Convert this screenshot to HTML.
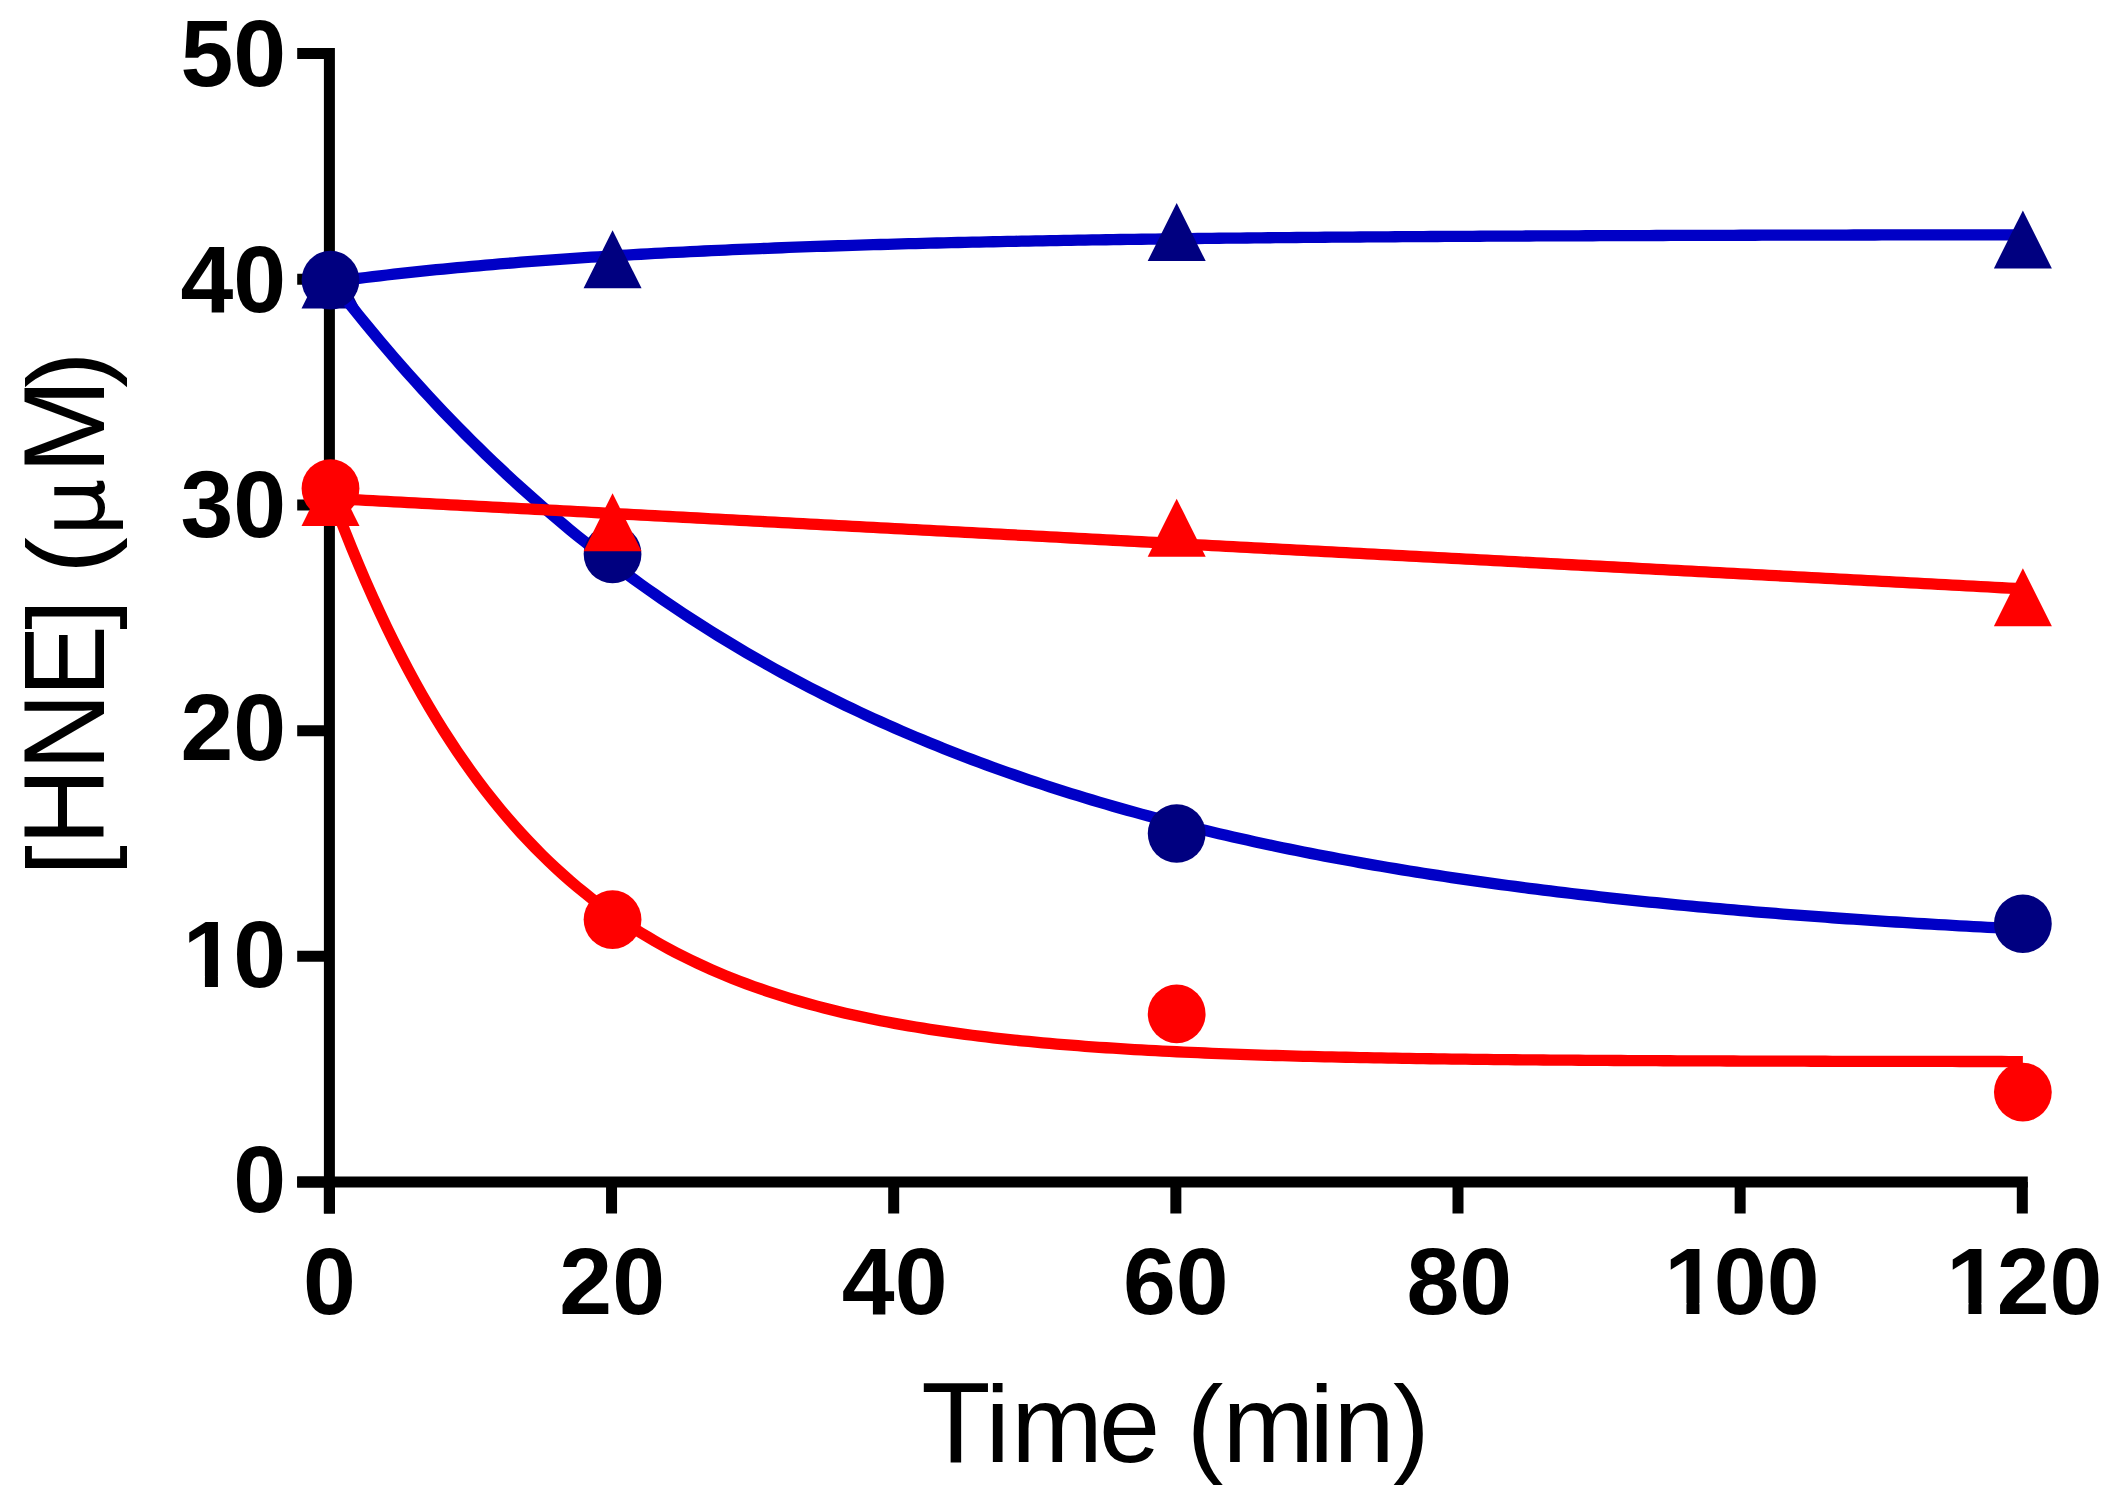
<!DOCTYPE html>
<html><head><meta charset="utf-8"><title>HNE time course</title>
<style>
html,body{margin:0;padding:0;background:#fff;}
svg{display:block;}
.tk{font-family:"Liberation Sans",sans-serif;font-weight:bold;font-size:95px;fill:#000;}
.ax{font-family:"Liberation Sans",sans-serif;font-weight:normal;font-size:110px;fill:#000;}
.mu{font-family:"DejaVu Sans",sans-serif;font-size:91px;}
</style></head><body>
<svg width="2125" height="1500" viewBox="0 0 2125 1500">
<rect width="2125" height="1500" fill="#fff"/>
<g stroke="#000" stroke-width="11" fill="none" stroke-linecap="butt">
<line x1="329.4" y1="48.1" x2="329.4" y2="1213.5"/>
<line x1="297.2" y1="1182.0" x2="2027.8" y2="1182.0"/>
<line x1="297.2" y1="1182.00" x2="329.4" y2="1182.00"/>
<line x1="297.2" y1="956.32" x2="329.4" y2="956.32"/>
<line x1="297.2" y1="730.64" x2="329.4" y2="730.64"/>
<line x1="297.2" y1="504.96" x2="329.4" y2="504.96"/>
<line x1="297.2" y1="279.28" x2="329.4" y2="279.28"/>
<line x1="297.2" y1="53.60" x2="329.4" y2="53.60"/>
<line x1="329.40" y1="1182.0" x2="329.40" y2="1213.5"/>
<line x1="611.55" y1="1182.0" x2="611.55" y2="1213.5"/>
<line x1="893.70" y1="1182.0" x2="893.70" y2="1213.5"/>
<line x1="1175.85" y1="1182.0" x2="1175.85" y2="1213.5"/>
<line x1="1458.00" y1="1182.0" x2="1458.00" y2="1213.5"/>
<line x1="1740.15" y1="1182.0" x2="1740.15" y2="1213.5"/>
<line x1="2022.30" y1="1182.0" x2="2022.30" y2="1213.5"/>
</g>
<text class="tk" x="233.37" y="1212.30">0</text>
<text class="tk" x="182.83 233.37" y="986.82">10</text>
<text class="tk" x="180.53 233.37" y="760.34">20</text>
<text class="tk" x="180.53 233.37" y="536.76">30</text>
<text class="tk" x="180.53 233.37" y="311.68">40</text>
<text class="tk" x="180.53 233.37" y="85.70">50</text>
<text class="tk" x="302.98" y="1314.40">0</text>
<text class="tk" x="559.32 612.15" y="1314.40">20</text>
<text class="tk" x="841.87 894.70" y="1314.40">40</text>
<text class="tk" x="1123.02 1175.85" y="1314.40">60</text>
<text class="tk" x="1406.47 1459.30" y="1314.40">80</text>
<text class="tk" x="1664.20 1713.83 1766.67" y="1314.40">100</text>
<text class="tk" x="1946.20 1996.73 2049.57" y="1314.40">120</text>
<rect x="1669.00" y="1303.20" width="17.44" height="12.50" fill="#fff"/>
<rect x="1699.45" y="1303.20" width="16.50" height="12.50" fill="#fff"/>
<rect x="1951.00" y="1303.20" width="17.44" height="12.50" fill="#fff"/>
<rect x="1981.45" y="1303.20" width="16.50" height="12.50" fill="#fff"/>
<rect x="187.50" y="976.20" width="17.42" height="12.50" fill="#fff"/>
<rect x="217.94" y="976.20" width="16.50" height="12.50" fill="#fff"/>
<text class="ax" y="1463 1462" x="921.25 985.46 1011.28 1098.91 1142.83 1186.75 1222.38 1309.41 1333.43 1392.89"><tspan font-size="114.95px" textLength="69.36" lengthAdjust="spacingAndGlyphs">T</tspan>ime (min)</text>
<text class="ax" transform="translate(103.6,0) rotate(-90)" y="0" x="-875.80 -845.32 -770.30 -696.78 -629.81 -601.78 -573.75 -536.57 -474.02 -388.09">[<tspan font-size="114.95px" textLength="77.02" lengthAdjust="spacingAndGlyphs">H</tspan><tspan font-size="114.95px" textLength="77.18" lengthAdjust="spacingAndGlyphs">N</tspan><tspan font-size="114.95px" textLength="71.61" lengthAdjust="spacingAndGlyphs">E</tspan>] (<tspan class="mu">μ</tspan><tspan font-size="114.95px" textLength="95.27" lengthAdjust="spacingAndGlyphs">M</tspan>)</text>
<g id="blue-tri"><path d="M330.50,281.99 L337.55,281.05 L344.60,280.13 L351.65,279.24 L358.71,278.35 L365.76,277.49 L372.81,276.64 L379.86,275.81 L386.91,275.00 L393.96,274.20 L401.01,273.41 L408.07,272.65 L415.12,271.90 L422.17,271.16 L429.22,270.43 L436.27,269.73 L443.32,269.03 L450.38,268.35 L457.43,267.68 L464.48,267.03 L471.53,266.39 L478.58,265.76 L485.63,265.14 L492.68,264.53 L499.74,263.94 L506.79,263.36 L513.84,262.79 L520.89,262.23 L527.94,261.68 L534.99,261.15 L542.04,260.62 L549.10,260.11 L556.15,259.60 L563.20,259.10 L570.25,258.62 L577.30,258.14 L584.35,257.67 L591.41,257.22 L598.46,256.77 L605.51,256.33 L612.56,255.89 L619.61,255.47 L626.66,255.06 L633.71,254.65 L640.77,254.25 L647.82,253.86 L654.87,253.48 L661.92,253.10 L668.97,252.73 L676.02,252.37 L683.08,252.02 L690.13,251.67 L697.18,251.33 L704.23,251.00 L711.28,250.67 L718.33,250.35 L725.38,250.04 L732.44,249.73 L739.49,249.43 L746.54,249.13 L753.59,248.84 L760.64,248.56 L767.69,248.28 L774.74,248.01 L781.80,247.74 L788.85,247.47 L795.90,247.22 L802.95,246.96 L810.00,246.72 L817.05,246.47 L824.11,246.24 L831.16,246.00 L838.21,245.77 L845.26,245.55 L852.31,245.33 L859.36,245.12 L866.41,244.90 L873.47,244.70 L880.52,244.49 L887.57,244.29 L894.62,244.10 L901.67,243.91 L908.72,243.72 L915.77,243.54 L922.83,243.36 L929.88,243.18 L936.93,243.01 L943.98,242.84 L951.03,242.67 L958.08,242.51 L965.13,242.35 L972.19,242.19 L979.24,242.04 L986.29,241.89 L993.34,241.74 L1000.39,241.59 L1007.44,241.45 L1014.50,241.31 L1021.55,241.18 L1028.60,241.04 L1035.65,240.91 L1042.70,240.78 L1049.75,240.66 L1056.80,240.53 L1063.86,240.41 L1070.91,240.29 L1077.96,240.18 L1085.01,240.06 L1092.06,239.95 L1099.11,239.84 L1106.16,239.73 L1113.22,239.63 L1120.27,239.52 L1127.32,239.42 L1134.37,239.32 L1141.42,239.23 L1148.47,239.13 L1155.53,239.04 L1162.58,238.95 L1169.63,238.86 L1176.68,238.77 L1183.73,238.68 L1190.78,238.60 L1197.83,238.51 L1204.89,238.43 L1211.94,238.35 L1218.99,238.27 L1226.04,238.20 L1233.09,238.12 L1240.14,238.05 L1247.19,237.98 L1254.25,237.91 L1261.30,237.84 L1268.35,237.77 L1275.40,237.70 L1282.45,237.64 L1289.50,237.57 L1296.56,237.51 L1303.61,237.45 L1310.66,237.39 L1317.71,237.33 L1324.76,237.27 L1331.81,237.21 L1338.86,237.16 L1345.92,237.10 L1352.97,237.05 L1360.02,236.99 L1367.07,236.94 L1374.12,236.89 L1381.17,236.84 L1388.22,236.79 L1395.28,236.75 L1402.33,236.70 L1409.38,236.65 L1416.43,236.61 L1423.48,236.57 L1430.53,236.52 L1437.59,236.48 L1444.64,236.44 L1451.69,236.40 L1458.74,236.36 L1465.79,236.32 L1472.84,236.28 L1479.89,236.24 L1486.95,236.21 L1494.00,236.17 L1501.05,236.13 L1508.10,236.10 L1515.15,236.07 L1522.20,236.03 L1529.25,236.00 L1536.31,235.97 L1543.36,235.94 L1550.41,235.91 L1557.46,235.88 L1564.51,235.85 L1571.56,235.82 L1578.62,235.79 L1585.67,235.76 L1592.72,235.73 L1599.77,235.71 L1606.82,235.68 L1613.87,235.65 L1620.92,235.63 L1627.98,235.60 L1635.03,235.58 L1642.08,235.56 L1649.13,235.53 L1656.18,235.51 L1663.23,235.49 L1670.29,235.47 L1677.34,235.44 L1684.39,235.42 L1691.44,235.40 L1698.49,235.38 L1705.54,235.36 L1712.59,235.34 L1719.65,235.32 L1726.70,235.30 L1733.75,235.29 L1740.80,235.27 L1747.85,235.25 L1754.90,235.23 L1761.95,235.22 L1769.01,235.20 L1776.06,235.18 L1783.11,235.17 L1790.16,235.15 L1797.21,235.14 L1804.26,235.12 L1811.32,235.11 L1818.37,235.09 L1825.42,235.08 L1832.47,235.06 L1839.52,235.05 L1846.57,235.04 L1853.62,235.02 L1860.68,235.01 L1867.73,235.00 L1874.78,234.99 L1881.83,234.97 L1888.88,234.96 L1895.93,234.95 L1902.98,234.94 L1910.04,234.93 L1917.09,234.92 L1924.14,234.91 L1931.19,234.90 L1938.24,234.89 L1945.29,234.88 L1952.35,234.87 L1959.40,234.86 L1966.45,234.85 L1973.50,234.84 L1980.55,234.83 L1987.60,234.82 L1994.65,234.81 L2001.71,234.80 L2008.76,234.79 L2015.81,234.78 L2022.86,234.78" fill="none" stroke="#0000c6" stroke-width="11.3" stroke-linecap="butt" stroke-linejoin="round"/><polygon points="330.50,250.40 359.50,308.40 301.50,308.40" fill="#000080"/><polygon points="612.56,230.35 641.56,288.35 583.56,288.35" fill="#000080"/><polygon points="1176.68,203.05 1205.68,261.05 1147.68,261.05" fill="#000080"/><polygon points="2022.86,210.40 2051.86,268.40 1993.86,268.40" fill="#000080"/></g>
<g id="blue-circ"><path d="M330.50,279.28 L337.55,288.44 L344.60,297.47 L351.65,306.38 L358.71,315.17 L365.76,323.83 L372.81,332.39 L379.86,340.82 L386.91,349.14 L393.96,357.35 L401.01,365.45 L408.07,373.44 L415.12,381.32 L422.17,389.09 L429.22,396.76 L436.27,404.32 L443.32,411.78 L450.38,419.14 L457.43,426.40 L464.48,433.56 L471.53,440.63 L478.58,447.59 L485.63,454.47 L492.68,461.25 L499.74,467.94 L506.79,474.54 L513.84,481.04 L520.89,487.46 L527.94,493.80 L534.99,500.05 L542.04,506.21 L549.10,512.29 L556.15,518.29 L563.20,524.20 L570.25,530.04 L577.30,535.79 L584.35,541.47 L591.41,547.07 L598.46,552.60 L605.51,558.05 L612.56,563.42 L619.61,568.73 L626.66,573.96 L633.71,579.12 L640.77,584.21 L647.82,589.23 L654.87,594.19 L661.92,599.07 L668.97,603.89 L676.02,608.65 L683.08,613.34 L690.13,617.97 L697.18,622.53 L704.23,627.03 L711.28,631.47 L718.33,635.86 L725.38,640.18 L732.44,644.44 L739.49,648.65 L746.54,652.79 L753.59,656.89 L760.64,660.92 L767.69,664.90 L774.74,668.83 L781.80,672.71 L788.85,676.53 L795.90,680.30 L802.95,684.02 L810.00,687.69 L817.05,691.31 L824.11,694.88 L831.16,698.40 L838.21,701.87 L845.26,705.30 L852.31,708.68 L859.36,712.01 L866.41,715.30 L873.47,718.55 L880.52,721.75 L887.57,724.90 L894.62,728.02 L901.67,731.09 L908.72,734.12 L915.77,737.11 L922.83,740.06 L929.88,742.97 L936.93,745.84 L943.98,748.67 L951.03,751.46 L958.08,754.22 L965.13,756.93 L972.19,759.61 L979.24,762.26 L986.29,764.86 L993.34,767.44 L1000.39,769.97 L1007.44,772.48 L1014.50,774.95 L1021.55,777.38 L1028.60,779.79 L1035.65,782.16 L1042.70,784.49 L1049.75,786.80 L1056.80,789.08 L1063.86,791.32 L1070.91,793.54 L1077.96,795.72 L1085.01,797.87 L1092.06,800.00 L1099.11,802.09 L1106.16,804.16 L1113.22,806.20 L1120.27,808.22 L1127.32,810.20 L1134.37,812.16 L1141.42,814.09 L1148.47,815.99 L1155.53,817.87 L1162.58,819.73 L1169.63,821.56 L1176.68,823.36 L1183.73,825.14 L1190.78,826.90 L1197.83,828.63 L1204.89,830.34 L1211.94,832.02 L1218.99,833.68 L1226.04,835.32 L1233.09,836.94 L1240.14,838.54 L1247.19,840.11 L1254.25,841.66 L1261.30,843.19 L1268.35,844.70 L1275.40,846.19 L1282.45,847.67 L1289.50,849.12 L1296.56,850.55 L1303.61,851.96 L1310.66,853.35 L1317.71,854.72 L1324.76,856.08 L1331.81,857.41 L1338.86,858.73 L1345.92,860.03 L1352.97,861.31 L1360.02,862.58 L1367.07,863.83 L1374.12,865.06 L1381.17,866.27 L1388.22,867.47 L1395.28,868.65 L1402.33,869.82 L1409.38,870.97 L1416.43,872.10 L1423.48,873.22 L1430.53,874.32 L1437.59,875.41 L1444.64,876.49 L1451.69,877.54 L1458.74,878.59 L1465.79,879.62 L1472.84,880.64 L1479.89,881.64 L1486.95,882.63 L1494.00,883.61 L1501.05,884.57 L1508.10,885.52 L1515.15,886.46 L1522.20,887.38 L1529.25,888.29 L1536.31,889.19 L1543.36,890.08 L1550.41,890.95 L1557.46,891.82 L1564.51,892.67 L1571.56,893.51 L1578.62,894.34 L1585.67,895.15 L1592.72,895.96 L1599.77,896.76 L1606.82,897.54 L1613.87,898.31 L1620.92,899.08 L1627.98,899.83 L1635.03,900.57 L1642.08,901.31 L1649.13,902.03 L1656.18,902.74 L1663.23,903.45 L1670.29,904.14 L1677.34,904.82 L1684.39,905.50 L1691.44,906.17 L1698.49,906.82 L1705.54,907.47 L1712.59,908.11 L1719.65,908.74 L1726.70,909.36 L1733.75,909.98 L1740.80,910.58 L1747.85,911.18 L1754.90,911.77 L1761.95,912.35 L1769.01,912.92 L1776.06,913.49 L1783.11,914.05 L1790.16,914.60 L1797.21,915.14 L1804.26,915.67 L1811.32,916.20 L1818.37,916.72 L1825.42,917.24 L1832.47,917.74 L1839.52,918.24 L1846.57,918.74 L1853.62,919.22 L1860.68,919.70 L1867.73,920.18 L1874.78,920.64 L1881.83,921.10 L1888.88,921.56 L1895.93,922.01 L1902.98,922.45 L1910.04,922.89 L1917.09,923.32 L1924.14,923.74 L1931.19,924.16 L1938.24,924.57 L1945.29,924.98 L1952.35,925.38 L1959.40,925.78 L1966.45,926.17 L1973.50,926.56 L1980.55,926.94 L1987.60,927.31 L1994.65,927.68 L2001.71,928.05 L2008.76,928.41 L2015.81,928.76 L2022.86,929.11" fill="none" stroke="#0000c6" stroke-width="11.3" stroke-linecap="butt" stroke-linejoin="round"/><ellipse cx="330.50" cy="280.10" rx="28.9" ry="29.3" fill="#000080"/><ellipse cx="612.56" cy="554.00" rx="28.9" ry="29.3" fill="#000080"/><ellipse cx="1176.68" cy="833.50" rx="28.9" ry="29.3" fill="#000080"/><ellipse cx="2022.86" cy="923.70" rx="28.9" ry="29.3" fill="#000080"/></g>
<g id="red-tri"><path d="M330.50,498.42 L337.55,498.79 L344.60,499.17 L351.65,499.55 L358.71,499.92 L365.76,500.30 L372.81,500.68 L379.86,501.05 L386.91,501.43 L393.96,501.81 L401.01,502.18 L408.07,502.56 L415.12,502.94 L422.17,503.31 L429.22,503.69 L436.27,504.07 L443.32,504.45 L450.38,504.82 L457.43,505.20 L464.48,505.58 L471.53,505.95 L478.58,506.33 L485.63,506.71 L492.68,507.08 L499.74,507.46 L506.79,507.84 L513.84,508.21 L520.89,508.59 L527.94,508.97 L534.99,509.34 L542.04,509.72 L549.10,510.10 L556.15,510.48 L563.20,510.85 L570.25,511.23 L577.30,511.61 L584.35,511.98 L591.41,512.36 L598.46,512.74 L605.51,513.11 L612.56,513.49 L619.61,513.87 L626.66,514.24 L633.71,514.62 L640.77,515.00 L647.82,515.38 L654.87,515.75 L661.92,516.13 L668.97,516.51 L676.02,516.88 L683.08,517.26 L690.13,517.64 L697.18,518.01 L704.23,518.39 L711.28,518.77 L718.33,519.14 L725.38,519.52 L732.44,519.90 L739.49,520.27 L746.54,520.65 L753.59,521.03 L760.64,521.41 L767.69,521.78 L774.74,522.16 L781.80,522.54 L788.85,522.91 L795.90,523.29 L802.95,523.67 L810.00,524.04 L817.05,524.42 L824.11,524.80 L831.16,525.17 L838.21,525.55 L845.26,525.93 L852.31,526.30 L859.36,526.68 L866.41,527.06 L873.47,527.44 L880.52,527.81 L887.57,528.19 L894.62,528.57 L901.67,528.94 L908.72,529.32 L915.77,529.70 L922.83,530.07 L929.88,530.45 L936.93,530.83 L943.98,531.20 L951.03,531.58 L958.08,531.96 L965.13,532.33 L972.19,532.71 L979.24,533.09 L986.29,533.47 L993.34,533.84 L1000.39,534.22 L1007.44,534.60 L1014.50,534.97 L1021.55,535.35 L1028.60,535.73 L1035.65,536.10 L1042.70,536.48 L1049.75,536.86 L1056.80,537.23 L1063.86,537.61 L1070.91,537.99 L1077.96,538.37 L1085.01,538.74 L1092.06,539.12 L1099.11,539.50 L1106.16,539.87 L1113.22,540.25 L1120.27,540.63 L1127.32,541.00 L1134.37,541.38 L1141.42,541.76 L1148.47,542.13 L1155.53,542.51 L1162.58,542.89 L1169.63,543.26 L1176.68,543.64 L1183.73,544.02 L1190.78,544.40 L1197.83,544.77 L1204.89,545.15 L1211.94,545.53 L1218.99,545.90 L1226.04,546.28 L1233.09,546.66 L1240.14,547.03 L1247.19,547.41 L1254.25,547.79 L1261.30,548.16 L1268.35,548.54 L1275.40,548.92 L1282.45,549.29 L1289.50,549.67 L1296.56,550.05 L1303.61,550.43 L1310.66,550.80 L1317.71,551.18 L1324.76,551.56 L1331.81,551.93 L1338.86,552.31 L1345.92,552.69 L1352.97,553.06 L1360.02,553.44 L1367.07,553.82 L1374.12,554.19 L1381.17,554.57 L1388.22,554.95 L1395.28,555.33 L1402.33,555.70 L1409.38,556.08 L1416.43,556.46 L1423.48,556.83 L1430.53,557.21 L1437.59,557.59 L1444.64,557.96 L1451.69,558.34 L1458.74,558.72 L1465.79,559.09 L1472.84,559.47 L1479.89,559.85 L1486.95,560.22 L1494.00,560.60 L1501.05,560.98 L1508.10,561.36 L1515.15,561.73 L1522.20,562.11 L1529.25,562.49 L1536.31,562.86 L1543.36,563.24 L1550.41,563.62 L1557.46,563.99 L1564.51,564.37 L1571.56,564.75 L1578.62,565.12 L1585.67,565.50 L1592.72,565.88 L1599.77,566.25 L1606.82,566.63 L1613.87,567.01 L1620.92,567.39 L1627.98,567.76 L1635.03,568.14 L1642.08,568.52 L1649.13,568.89 L1656.18,569.27 L1663.23,569.65 L1670.29,570.02 L1677.34,570.40 L1684.39,570.78 L1691.44,571.15 L1698.49,571.53 L1705.54,571.91 L1712.59,572.28 L1719.65,572.66 L1726.70,573.04 L1733.75,573.42 L1740.80,573.79 L1747.85,574.17 L1754.90,574.55 L1761.95,574.92 L1769.01,575.30 L1776.06,575.68 L1783.11,576.05 L1790.16,576.43 L1797.21,576.81 L1804.26,577.18 L1811.32,577.56 L1818.37,577.94 L1825.42,578.32 L1832.47,578.69 L1839.52,579.07 L1846.57,579.45 L1853.62,579.82 L1860.68,580.20 L1867.73,580.58 L1874.78,580.95 L1881.83,581.33 L1888.88,581.71 L1895.93,582.08 L1902.98,582.46 L1910.04,582.84 L1917.09,583.21 L1924.14,583.59 L1931.19,583.97 L1938.24,584.35 L1945.29,584.72 L1952.35,585.10 L1959.40,585.48 L1966.45,585.85 L1973.50,586.23 L1980.55,586.61 L1987.60,586.98 L1994.65,587.36 L2001.71,587.74 L2008.76,588.11 L2015.81,588.49 L2022.86,588.87" fill="none" stroke="#ff0000" stroke-width="11.3" stroke-linecap="butt" stroke-linejoin="round"/><polygon points="330.50,467.90 359.50,525.90 301.50,525.90" fill="#ff0000"/><polygon points="612.56,493.30 641.56,551.30 583.56,551.30" fill="#ff0000"/><polygon points="1176.68,498.65 1205.68,556.65 1147.68,556.65" fill="#ff0000"/><polygon points="2022.86,568.30 2051.86,626.30 1993.86,626.30" fill="#ff0000"/></g>
<g id="red-circ"><path d="M330.50,493.22 L337.55,512.06 L344.60,530.28 L351.65,547.89 L358.71,564.92 L365.76,581.38 L372.81,597.30 L379.86,612.69 L386.91,627.57 L393.96,641.95 L401.01,655.86 L408.07,669.31 L415.12,682.32 L422.17,694.89 L429.22,707.05 L436.27,718.80 L443.32,730.16 L450.38,741.15 L457.43,751.77 L464.48,762.04 L471.53,771.97 L478.58,781.58 L485.63,790.86 L492.68,799.83 L499.74,808.51 L506.79,816.90 L513.84,825.02 L520.89,832.86 L527.94,840.44 L534.99,847.78 L542.04,854.87 L549.10,861.72 L556.15,868.35 L563.20,874.76 L570.25,880.95 L577.30,886.94 L584.35,892.73 L591.41,898.33 L598.46,903.75 L605.51,908.98 L612.56,914.04 L619.61,918.94 L626.66,923.67 L633.71,928.24 L640.77,932.67 L647.82,936.94 L654.87,941.08 L661.92,945.07 L668.97,948.94 L676.02,952.68 L683.08,956.29 L690.13,959.78 L697.18,963.16 L704.23,966.43 L711.28,969.58 L718.33,972.64 L725.38,975.59 L732.44,978.44 L739.49,981.20 L746.54,983.87 L753.59,986.45 L760.64,988.94 L767.69,991.36 L774.74,993.69 L781.80,995.94 L788.85,998.12 L795.90,1000.23 L802.95,1002.27 L810.00,1004.24 L817.05,1006.14 L824.11,1007.98 L831.16,1009.76 L838.21,1011.48 L845.26,1013.15 L852.31,1014.76 L859.36,1016.31 L866.41,1017.82 L873.47,1019.27 L880.52,1020.68 L887.57,1022.04 L894.62,1023.35 L901.67,1024.63 L908.72,1025.85 L915.77,1027.04 L922.83,1028.19 L929.88,1029.30 L936.93,1030.38 L943.98,1031.41 L951.03,1032.42 L958.08,1033.39 L965.13,1034.33 L972.19,1035.24 L979.24,1036.11 L986.29,1036.96 L993.34,1037.78 L1000.39,1038.57 L1007.44,1039.34 L1014.50,1040.08 L1021.55,1040.80 L1028.60,1041.49 L1035.65,1042.16 L1042.70,1042.81 L1049.75,1043.44 L1056.80,1044.04 L1063.86,1044.63 L1070.91,1045.19 L1077.96,1045.74 L1085.01,1046.27 L1092.06,1046.78 L1099.11,1047.28 L1106.16,1047.76 L1113.22,1048.22 L1120.27,1048.67 L1127.32,1049.10 L1134.37,1049.52 L1141.42,1049.92 L1148.47,1050.31 L1155.53,1050.69 L1162.58,1051.05 L1169.63,1051.41 L1176.68,1051.75 L1183.73,1052.08 L1190.78,1052.40 L1197.83,1052.71 L1204.89,1053.01 L1211.94,1053.29 L1218.99,1053.57 L1226.04,1053.84 L1233.09,1054.10 L1240.14,1054.36 L1247.19,1054.60 L1254.25,1054.83 L1261.30,1055.06 L1268.35,1055.28 L1275.40,1055.50 L1282.45,1055.70 L1289.50,1055.90 L1296.56,1056.09 L1303.61,1056.28 L1310.66,1056.46 L1317.71,1056.63 L1324.76,1056.80 L1331.81,1056.97 L1338.86,1057.12 L1345.92,1057.27 L1352.97,1057.42 L1360.02,1057.56 L1367.07,1057.70 L1374.12,1057.83 L1381.17,1057.96 L1388.22,1058.09 L1395.28,1058.21 L1402.33,1058.32 L1409.38,1058.44 L1416.43,1058.54 L1423.48,1058.65 L1430.53,1058.75 L1437.59,1058.85 L1444.64,1058.94 L1451.69,1059.04 L1458.74,1059.12 L1465.79,1059.21 L1472.84,1059.29 L1479.89,1059.37 L1486.95,1059.45 L1494.00,1059.53 L1501.05,1059.60 L1508.10,1059.67 L1515.15,1059.74 L1522.20,1059.80 L1529.25,1059.86 L1536.31,1059.93 L1543.36,1059.99 L1550.41,1060.04 L1557.46,1060.10 L1564.51,1060.15 L1571.56,1060.20 L1578.62,1060.25 L1585.67,1060.30 L1592.72,1060.35 L1599.77,1060.39 L1606.82,1060.44 L1613.87,1060.48 L1620.92,1060.52 L1627.98,1060.56 L1635.03,1060.60 L1642.08,1060.63 L1649.13,1060.67 L1656.18,1060.71 L1663.23,1060.74 L1670.29,1060.77 L1677.34,1060.80 L1684.39,1060.83 L1691.44,1060.86 L1698.49,1060.89 L1705.54,1060.92 L1712.59,1060.94 L1719.65,1060.97 L1726.70,1060.99 L1733.75,1061.02 L1740.80,1061.04 L1747.85,1061.06 L1754.90,1061.08 L1761.95,1061.10 L1769.01,1061.13 L1776.06,1061.14 L1783.11,1061.16 L1790.16,1061.18 L1797.21,1061.20 L1804.26,1061.22 L1811.32,1061.23 L1818.37,1061.25 L1825.42,1061.26 L1832.47,1061.28 L1839.52,1061.29 L1846.57,1061.31 L1853.62,1061.32 L1860.68,1061.33 L1867.73,1061.35 L1874.78,1061.36 L1881.83,1061.37 L1888.88,1061.38 L1895.93,1061.39 L1902.98,1061.40 L1910.04,1061.41 L1917.09,1061.42 L1924.14,1061.43 L1931.19,1061.44 L1938.24,1061.45 L1945.29,1061.46 L1952.35,1061.47 L1959.40,1061.48 L1966.45,1061.48 L1973.50,1061.49 L1980.55,1061.50 L1987.60,1061.51 L1994.65,1061.51 L2001.71,1061.52 L2008.76,1061.53 L2015.81,1061.53 L2022.86,1061.54" fill="none" stroke="#ff0000" stroke-width="11.3" stroke-linecap="butt" stroke-linejoin="round"/><ellipse cx="330.50" cy="488.50" rx="28.9" ry="29.3" fill="#ff0000"/><ellipse cx="612.56" cy="919.60" rx="28.9" ry="29.3" fill="#ff0000"/><ellipse cx="1176.68" cy="1013.90" rx="28.9" ry="29.3" fill="#ff0000"/><ellipse cx="2022.86" cy="1092.10" rx="28.9" ry="29.3" fill="#ff0000"/></g>
</svg></body></html>
